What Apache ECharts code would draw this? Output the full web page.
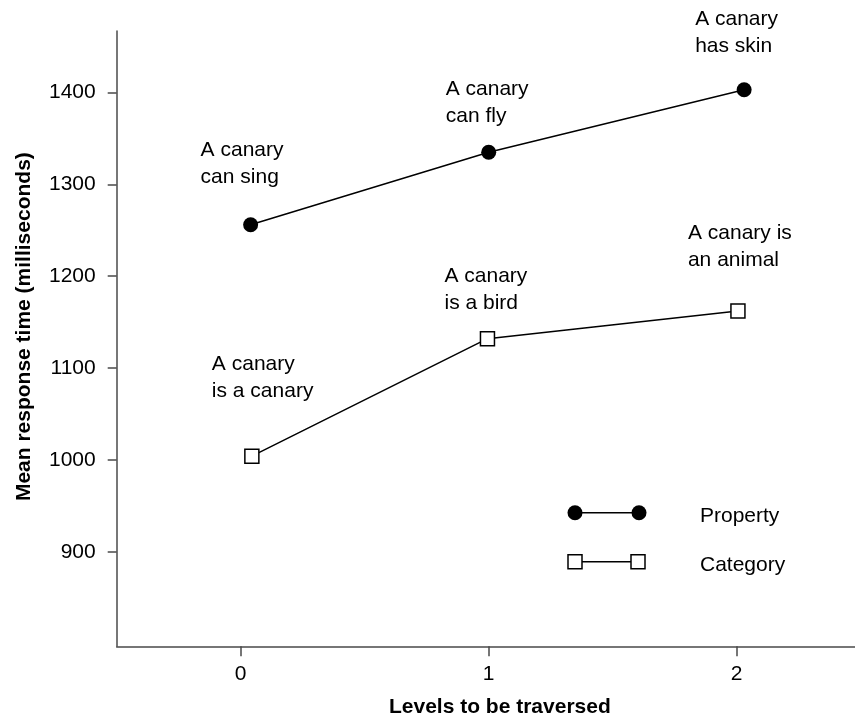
<!DOCTYPE html>
<html>
<head>
<meta charset="utf-8">
<script src="https://cdn.jsdelivr.net/npm/echarts@6/dist/echarts.min.js"></script>
<style>
html,body{margin:0;padding:0;background:#fff;}
#chart{width:855px;height:720px;}
</style>
</head>
<body>
<div id="chart"></div>
<script>
// ---- data ----
var xTicks = [0, 1, 2];
var yTicks = [900, 1000, 1100, 1200, 1300, 1400];
var propertyLevels = [0.04, 1.0, 2.03];
var propertyTimes = [1256, 1335, 1403];
var propertyLabels = ['A canary\ncan sing', 'A canary\ncan fly', 'A canary\nhas skin'];
var categoryLevels = [0.045, 0.995, 2.005];
var categoryTimes = [1004, 1132, 1162];
var categoryLabels = ['A canary\nis a canary', 'A canary\nis a bird', 'A canary is\nan animal'];
var seriesNames = ['Property', 'Category'];

// ---- label placement (styling only) ----
var propertyLabelOffsets = [[-50, -27], [-43, -15], [-49, -23]];
var categoryLabelOffsets = [[-40, -44], [-43, -14], [-50, -30]];

var FONT = '"Liberation Sans", Arial, Helvetica, sans-serif';
var AXIS_COLOR = '#4a4a4a';
var TEXT_COLOR = '#000';

function buildData(xs, ys, labels, offsets) {
  return xs.map(function (x, i) {
    return {
      value: [x, ys[i]],
      label: {
        show: true,
        formatter: labels[i],
        position: 'top',
        distance: 0,
        align: 'left',
        verticalAlign: 'bottom',
        offset: offsets[i],
        fontFamily: FONT,
        fontSize: 21,
        lineHeight: 27,
        color: TEXT_COLOR
      }
    };
  });
}

var chart = echarts.init(document.getElementById('chart'), null, {renderer: 'canvas'});

var option = {
  backgroundColor: '#fff',
  animation: false,
  grid: {left: 116.7, right: 0, top: 31, bottom: 73.7, containLabel: false, outerBoundsMode: 'none'},
  xAxis: {
    type: 'value',
    min: -0.5,
    max: 2.477,
    name: 'Levels to be traversed',
    nameLocation: 'middle',
    nameGap: 50,
    nameTextStyle: {fontFamily: FONT, fontSize: 21, fontWeight: 'bold', color: TEXT_COLOR, padding: [0, 0, 0, 28]},
    splitLine: {show: false},
    axisLine: {show: true, onZero: false, lineStyle: {color: AXIS_COLOR, width: 1.5}},
    axisTick: {show: true, length: 10, customValues: xTicks, lineStyle: {color: AXIS_COLOR, width: 1.5}},
    axisLabel: {customValues: xTicks, margin: 17, fontFamily: FONT, fontSize: 21, color: TEXT_COLOR,
      formatter: function (v) { return String(v); }}
  },
  yAxis: {
    type: 'value',
    min: 797,
    max: 1467,
    name: 'Mean response time (milliseconds)',
    nameLocation: 'middle',
    nameGap: 82,
    nameTextStyle: {fontFamily: FONT, fontSize: 21, fontWeight: 'bold', color: TEXT_COLOR, padding: [0, 0, 0, 24]},
    splitLine: {show: false},
    axisLine: {show: true, onZero: false, lineStyle: {color: AXIS_COLOR, width: 1.5}},
    axisTick: {show: true, length: 9, customValues: yTicks, lineStyle: {color: AXIS_COLOR, width: 1.5}},
    axisLabel: {customValues: yTicks, margin: 21, fontFamily: FONT, fontSize: 21, color: TEXT_COLOR,
      formatter: function (v) { return String(v); }}
  },
  series: [
    {
      name: seriesNames[0],
      type: 'line',
      data: buildData(propertyLevels, propertyTimes, propertyLabels, propertyLabelOffsets),
      symbol: 'circle',
      symbolSize: 15,
      itemStyle: {color: '#000', borderColor: '#000', borderWidth: 0},
      lineStyle: {color: '#000', width: 1.5},
      z: 3
    },
    {
      name: seriesNames[1],
      type: 'line',
      data: buildData(categoryLevels, categoryTimes, categoryLabels, categoryLabelOffsets),
      symbol: 'rect',
      symbolSize: 14,
      itemStyle: {color: '#fff', borderColor: '#000', borderWidth: 1.5},
      lineStyle: {color: '#000', width: 1.5},
      z: 3
    }
  ],
  graphic: [
    // legend: Property
    {type: 'line', shape: {x1: 575, y1: 512.7, x2: 639, y2: 512.7}, style: {stroke: '#000', lineWidth: 1.5}},
    {type: 'circle', shape: {cx: 575, cy: 512.7, r: 7.5}, style: {fill: '#000'}},
    {type: 'circle', shape: {cx: 639, cy: 512.7, r: 7.5}, style: {fill: '#000'}},
    {type: 'text', x: 700, y: 516, style: {text: seriesNames[0], font: '21px ' + FONT, fill: TEXT_COLOR, textVerticalAlign: 'middle'}},
    // legend: Category
    {type: 'line', shape: {x1: 575, y1: 561.7, x2: 638, y2: 561.7}, style: {stroke: '#000', lineWidth: 1.5}},
    {type: 'rect', shape: {x: 568, y: 554.7, width: 14, height: 14}, style: {fill: '#fff', stroke: '#000', lineWidth: 1.5}},
    {type: 'rect', shape: {x: 631, y: 554.7, width: 14, height: 14}, style: {fill: '#fff', stroke: '#000', lineWidth: 1.5}},
    {type: 'text', x: 700, y: 565, style: {text: seriesNames[1], font: '21px ' + FONT, fill: TEXT_COLOR, textVerticalAlign: 'middle'}}
  ]
};

chart.setOption(option);
</script>
</body>
</html>
